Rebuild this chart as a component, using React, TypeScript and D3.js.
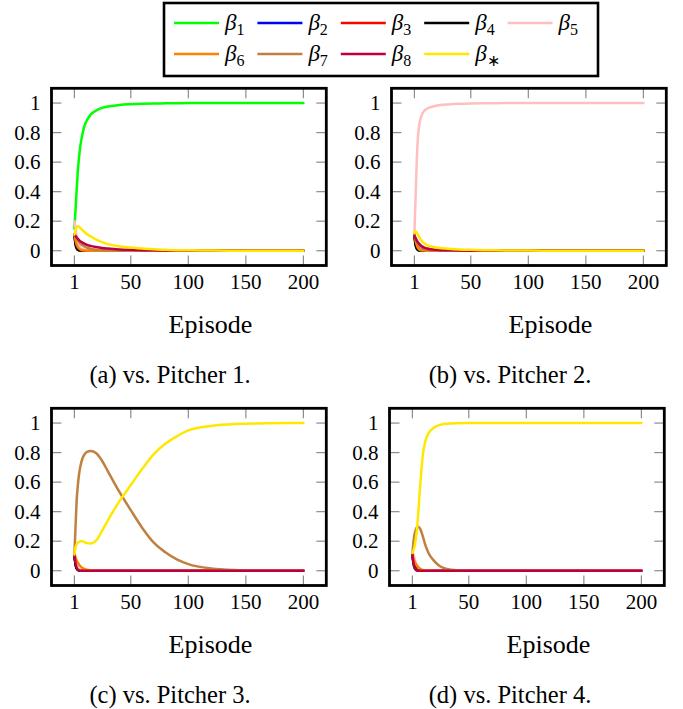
import React from 'react';
import * as d3 from 'd3';

const EPISODES = [1, 2, 3, 4, 5, 6, 8, 10, 12, 15, 20, 25, 30, 40, 50, 60, 70, 80, 90, 100, 120, 140, 170, 200];

const X_TICKS = [1, 50, 100, 150, 200];
const Y_TICKS = [0, 0.2, 0.4, 0.6, 0.8, 1];

// vs. Pitcher 1
const P1_B1 = [0.15, 0.28, 0.42, 0.54, 0.63, 0.7, 0.79, 0.85, 0.885, 0.92, 0.95, 0.967, 0.977, 0.987, 0.992, 0.995, 0.997, 0.998, 0.999, 1, 1, 1, 1, 1];
const P1_B2 = [0.11, 0.06, 0.03, 0.015, 0.008, 0.004, 0.002, 0.001, 0, 0, 0, 0, 0, 0, 0, 0, 0, 0, 0, 0, 0, 0, 0, 0];
const P1_B3 = [0.11, 0.05, 0.025, 0.012, 0.006, 0.003, 0.001, 0, 0, 0, 0, 0, 0, 0, 0, 0, 0, 0, 0, 0, 0, 0, 0, 0];
const P1_B4 = [0.11, 0.04, 0.015, 0.006, 0.002, 0.001, 0, 0, 0, 0, 0, 0, 0, 0, 0, 0, 0, 0, 0, 0, 0, 0, 0, 0];
const P1_B5 = [0.2, 0.15, 0.1, 0.06, 0.04, 0.025, 0.012, 0.006, 0.003, 0.001, 0, 0, 0, 0, 0, 0, 0, 0, 0, 0, 0, 0, 0, 0];
const P1_B6 = [0.11, 0.07, 0.04, 0.025, 0.015, 0.008, 0.003, 0.001, 0, 0, 0, 0, 0, 0, 0, 0, 0, 0, 0, 0, 0, 0, 0, 0];
const P1_B7 = [0.11, 0.1, 0.085, 0.07, 0.06, 0.05, 0.037, 0.027, 0.02, 0.013, 0.007, 0.004, 0.002, 0.001, 0, 0, 0, 0, 0, 0, 0, 0, 0, 0];
const P1_B8 = [0.11, 0.1, 0.09, 0.08, 0.072, 0.065, 0.055, 0.047, 0.04, 0.033, 0.025, 0.019, 0.015, 0.009, 0.006, 0.004, 0.003, 0.002, 0.001, 0.001, 0, 0, 0, 0];
const P1_BS = [0.11, 0.14, 0.16, 0.165, 0.162, 0.155, 0.14, 0.125, 0.112, 0.097, 0.075, 0.058, 0.045, 0.03, 0.022, 0.015, 0.01, 0.006, 0.004, 0.003, 0.001, 0, 0, 0];

// vs. Pitcher 2
const P2_B1 = [0.11, 0.04, 0.015, 0.005, 0.002, 0.001, 0, 0, 0, 0, 0, 0, 0, 0, 0, 0, 0, 0, 0, 0, 0, 0, 0, 0];
const P2_B2 = [0.11, 0.05, 0.02, 0.008, 0.003, 0.001, 0, 0, 0, 0, 0, 0, 0, 0, 0, 0, 0, 0, 0, 0, 0, 0, 0, 0];
const P2_B3 = [0.11, 0.06, 0.03, 0.015, 0.007, 0.003, 0.001, 0, 0, 0, 0, 0, 0, 0, 0, 0, 0, 0, 0, 0, 0, 0, 0, 0];
const P2_B4 = [0.1, 0.04, 0.015, 0.006, 0.002, 0.001, 0, 0, 0, 0, 0, 0, 0, 0, 0, 0, 0, 0, 0, 0, 0, 0, 0, 0];
const P2_B5 = [0.12, 0.35, 0.6, 0.76, 0.84, 0.885, 0.93, 0.95, 0.962, 0.972, 0.982, 0.988, 0.991, 0.995, 0.997, 0.998, 0.999, 1, 1, 1, 1, 1, 1, 1];
const P2_B6 = [0.11, 0.07, 0.04, 0.02, 0.01, 0.005, 0.002, 0.001, 0, 0, 0, 0, 0, 0, 0, 0, 0, 0, 0, 0, 0, 0, 0, 0];
const P2_B7 = [0.11, 0.08, 0.06, 0.045, 0.035, 0.027, 0.016, 0.01, 0.006, 0.003, 0.001, 0, 0, 0, 0, 0, 0, 0, 0, 0, 0, 0, 0, 0];
const P2_B8 = [0.1, 0.085, 0.07, 0.058, 0.048, 0.04, 0.028, 0.02, 0.015, 0.01, 0.006, 0.004, 0.003, 0.001, 0, 0, 0, 0, 0, 0, 0, 0, 0, 0];
const P2_BS = [0.12, 0.13, 0.125, 0.11, 0.095, 0.082, 0.062, 0.048, 0.038, 0.03, 0.022, 0.017, 0.014, 0.009, 0.006, 0.004, 0.003, 0.002, 0.001, 0.001, 0, 0, 0, 0];

// vs. Pitcher 3
const P3_B1 = [0.11, 0.04, 0.015, 0.005, 0.002, 0.001, 0, 0, 0, 0, 0, 0, 0, 0, 0, 0, 0, 0, 0, 0, 0, 0, 0, 0];
const P3_B2 = [0.11, 0.05, 0.02, 0.008, 0.003, 0.001, 0, 0, 0, 0, 0, 0, 0, 0, 0, 0, 0, 0, 0, 0, 0, 0, 0, 0];
const P3_B3 = [0.11, 0.05, 0.022, 0.009, 0.004, 0.001, 0, 0, 0, 0, 0, 0, 0, 0, 0, 0, 0, 0, 0, 0, 0, 0, 0, 0];
const P3_B4 = [0.11, 0.04, 0.015, 0.006, 0.002, 0.001, 0, 0, 0, 0, 0, 0, 0, 0, 0, 0, 0, 0, 0, 0, 0, 0, 0, 0];
const P3_B5 = [0.12, 0.07, 0.04, 0.02, 0.01, 0.005, 0.002, 0.001, 0, 0, 0, 0, 0, 0, 0, 0, 0, 0, 0, 0, 0, 0, 0, 0];
const P3_B6 = [0.11, 0.09, 0.07, 0.055, 0.042, 0.032, 0.018, 0.01, 0.006, 0.003, 0.001, 0, 0, 0, 0, 0, 0, 0, 0, 0, 0, 0, 0, 0];
const P3_B7 = [0.11, 0.3, 0.48, 0.58, 0.65, 0.7, 0.76, 0.79, 0.805, 0.81, 0.795, 0.745, 0.675, 0.535, 0.41, 0.29, 0.19, 0.125, 0.077, 0.045, 0.015, 0.005, 0.001, 0];
const P3_B8 = [0.11, 0.05, 0.02, 0.008, 0.003, 0.001, 0, 0, 0, 0, 0, 0, 0, 0, 0, 0, 0, 0, 0, 0, 0, 0, 0, 0];
const P3_BS = [0.11, 0.16, 0.18, 0.19, 0.195, 0.2, 0.2, 0.193, 0.187, 0.185, 0.205, 0.27, 0.34, 0.47, 0.58, 0.69, 0.79, 0.86, 0.91, 0.95, 0.98, 0.993, 0.999, 1];

// vs. Pitcher 4
const P4_B1 = [0.11, 0.04, 0.015, 0.005, 0.002, 0.001, 0, 0, 0, 0, 0, 0, 0, 0, 0, 0, 0, 0, 0, 0, 0, 0, 0, 0];
const P4_B2 = [0.11, 0.05, 0.02, 0.008, 0.003, 0.001, 0, 0, 0, 0, 0, 0, 0, 0, 0, 0, 0, 0, 0, 0, 0, 0, 0, 0];
const P4_B3 = [0.11, 0.06, 0.03, 0.014, 0.006, 0.003, 0.001, 0, 0, 0, 0, 0, 0, 0, 0, 0, 0, 0, 0, 0, 0, 0, 0, 0];
const P4_B4 = [0.11, 0.07, 0.045, 0.03, 0.02, 0.012, 0.005, 0.002, 0.001, 0, 0, 0, 0, 0, 0, 0, 0, 0, 0, 0, 0, 0, 0, 0];
const P4_B5 = [0.12, 0.11, 0.08, 0.055, 0.035, 0.022, 0.01, 0.004, 0.002, 0.001, 0, 0, 0, 0, 0, 0, 0, 0, 0, 0, 0, 0, 0, 0];
const P4_B6 = [0.11, 0.08, 0.06, 0.045, 0.033, 0.024, 0.012, 0.006, 0.003, 0.001, 0, 0, 0, 0, 0, 0, 0, 0, 0, 0, 0, 0, 0, 0];
const P4_B7 = [0.11, 0.2, 0.25, 0.28, 0.295, 0.298, 0.28, 0.235, 0.18, 0.12, 0.065, 0.03, 0.013, 0.003, 0.001, 0, 0, 0, 0, 0, 0, 0, 0, 0];
const P4_B8 = [0.11, 0.05, 0.02, 0.008, 0.003, 0.001, 0, 0, 0, 0, 0, 0, 0, 0, 0, 0, 0, 0, 0, 0, 0, 0, 0, 0];
const P4_BS = [0.12, 0.14, 0.17, 0.22, 0.28, 0.38, 0.6, 0.78, 0.87, 0.93, 0.97, 0.988, 0.995, 0.999, 1, 1, 1, 1, 1, 1, 1, 1, 1, 1];

const LEGEND_SUBS = ['1', '2', '3', '4', '5', '6', '7', '8', '\u2217'];
const COLORS = ['#00ff00', '#0000ff', '#ff0000', '#000000', '#ffbfbf', '#ff8000', '#bf8040', '#bf0040', '#ffe800'];

const PANELS = [
  { caption: '(a) vs. Pitcher 1.', left: 51.5, top: 88.3, capX: 170, series: [P1_B1, P1_B2, P1_B3, P1_B4, P1_B5, P1_B6, P1_B7, P1_B8, P1_BS] },
  { caption: '(b) vs. Pitcher 2.', left: 391.5, top: 88.3, capX: 510, series: [P2_B1, P2_B2, P2_B3, P2_B4, P2_B5, P2_B6, P2_B7, P2_B8, P2_BS] },
  { caption: '(c) vs. Pitcher 3.', left: 51.5, top: 408.3, capX: 170, series: [P3_B1, P3_B2, P3_B3, P3_B4, P3_B5, P3_B6, P3_B7, P3_B8, P3_BS] },
  { caption: '(d) vs. Pitcher 4.', left: 389.5, top: 408.3, capX: 510, series: [P4_B1, P4_B2, P4_B3, P4_B4, P4_B5, P4_B6, P4_B7, P4_B8, P4_BS] },
];

const W = 274.8;
const H = 177.2;
const SERIF = { fontFamily: 'Liberation Serif' };

function Panel({ panel }) {
  const x = d3.scaleLinear().domain([-18.9, 219.9]).range([panel.left, panel.left + W]);
  const y = d3.scaleLinear().domain([-0.1, 1.1]).range([panel.top + H, panel.top]);
  const line = d3.line<number>()
    .x((_, i) => x(EPISODES[i]))
    .y(d => y(d))
    .curve(d3.curveMonotoneX);
  const bottom = panel.top + H;
  const right = panel.left + W;
  const tick = 10;

  return (
    <g>
      {X_TICKS.map(t => (
        <g key={'x' + t}>
          <line x1={x(t)} x2={x(t)} y1={bottom} y2={bottom - tick} stroke="#8c8c8c" strokeWidth={1.2} />
          <line x1={x(t)} x2={x(t)} y1={panel.top} y2={panel.top + tick} stroke="#8c8c8c" strokeWidth={1.2} />
          <text x={x(t)} y={bottom + 23} textAnchor="middle" fontSize={21} style={SERIF}>{t}</text>
        </g>
      ))}
      {Y_TICKS.map(t => (
        <g key={'y' + t}>
          <line x1={panel.left} x2={panel.left + tick} y1={y(t)} y2={y(t)} stroke="#8c8c8c" strokeWidth={1.2} />
          <line x1={right} x2={right - tick} y1={y(t)} y2={y(t)} stroke="#8c8c8c" strokeWidth={1.2} />
          <text x={panel.left - 11} y={y(t) + 7} textAnchor="end" fontSize={21} style={SERIF}>{t}</text>
        </g>
      ))}
      {panel.series.map((s, i) => (
        <path key={i} d={line(s) || ''} fill="none" stroke={COLORS[i]} strokeWidth={2.5}
          strokeLinejoin="round" strokeLinecap="round" />
      ))}
      <rect x={panel.left} y={panel.top} width={W} height={H} fill="none" stroke="#000" strokeWidth={2.8} />
      <text x={panel.left + 159} y={bottom + 67.5} textAnchor="middle" fontSize={26} style={SERIF}>Episode</text>
      <text x={panel.capX} y={bottom + 117.5} textAnchor="middle" fontSize={24.5} style={SERIF}>{panel.caption}</text>
    </g>
  );
}

function Legend() {
  const x0 = 174;
  const step = 83.4;
  const rows = [23, 54];
  return (
    <g>
      <rect x={164} y={3} width={434} height={73} fill="#fff" stroke="#000" strokeWidth={2.6} />
      {LEGEND_SUBS.map((sub, i) => {
        const col = i % 5;
        const ry = rows[Math.floor(i / 5)];
        const lx = x0 + col * step;
        return (
          <g key={i}>
            <line x1={lx} x2={lx + 45} y1={ry} y2={ry} stroke={COLORS[i]} strokeWidth={2.5} />
            <text x={lx + 51} y={ry + 7} fontSize={23} fontStyle="italic" style={SERIF}>
              β<tspan dy={5} fontSize={16} fontStyle="normal">{sub}</tspan>
            </text>
          </g>
        );
      })}
    </g>
  );
}

export default function App() {
  return (
    <svg width={683} height={709} style={{ position: 'absolute', left: 0, top: 0, background: '#fff' }}>
      <Legend />
      {PANELS.map(p => <Panel key={p.caption} panel={p} />)}
    </svg>
  );
}
